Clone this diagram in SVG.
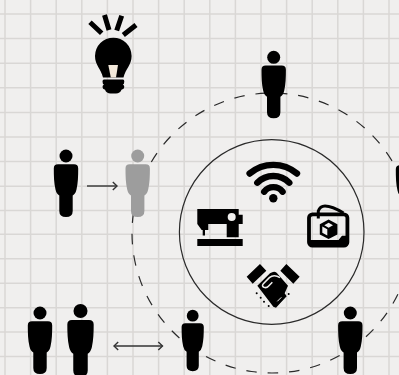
<svg xmlns="http://www.w3.org/2000/svg" xmlns:xlink="http://www.w3.org/1999/xlink" width="399" height="375" viewBox="0 0 399 375">
<style>
.g{stroke:#d9d7d5;stroke-width:1.5;fill:none}
.c{fill:none;stroke:#2a2a2a}
.k{fill:#000}
.a{fill:none;stroke:#333;stroke-width:1.4}
.r{stroke:#000;stroke-width:5;fill:none}
.w{fill:none;stroke:#000;stroke-width:6.400;stroke-linecap:round}
</style>
<defs>
<g id="person"><circle cx="0" cy="0" r="6.500"/><path d="M-8 8.300H8Q12.200 8.300 12.200 12.500C12.200 20 12 27 10.500 33.500Q9.500 38 6.700 39.500V55Q6.700 61 0 61Q-6.700 61-6.700 55V39.500Q-9.500 38-10.500 33.500C-12 27-12.200 20-12.200 12.500Q-12.200 8.300-8 8.300Z"/></g>
<marker id="open" markerWidth="10" markerHeight="10" refX="8" refY="5" orient="auto-start-reverse" markerUnits="userSpaceOnUse"><path d="M3.800 1L8 5L3.800 9" fill="none" stroke="#333" stroke-width="1.400"/></marker>
</defs>
<rect width="399" height="375" fill="#f0efee"/>
<path class="g" d="M5 0V375M30.600 0V375M56.200 0V375M81.800 0V375M107.400 0V375M133 0V375M158.600 0V375M184.200 0V375M209.800 0V375M235.400 0V375M261 0V375M286.600 0V375M312.200 0V375M337.800 0V375M363.400 0V375M389 0V375M0 14H399M0 38.600H399M0 63.200H399M0 87.800H399M0 112.400H399M0 137H399M0 161.600H399M0 186.200H399M0 210.400H399M0 234.200H399M0 258.800H399M0 283.200H399M0 307.800H399M0 332H399M0 356.400H399"/>
<g id="connectors">
<circle class="c" cx="272" cy="233" r="140" stroke-width="1.200" stroke-dasharray="10.500 10.960" transform="rotate(8.400 272 233)"/>
<circle class="c" cx="271.700" cy="232" r="92.300" stroke-width="1.200"/>
<path class="a" d="M87 186H117" marker-end="url(#open)"/>
<path class="a" d="M114 346H162.500" marker-start="url(#open)" marker-end="url(#open)"/>
</g>
<g id="bulb">
<path class="r" d="M90 22.300L101.700 33.300M104.500 15L109 30M121.700 15.700L116.700 30.500M136 25L123.300 35"/>
<path class="k" d="M113.300 37.700A18.300 18.300 0 0 1 131.600 56C131.600 65 125.500 69 123.500 77.500H103C101 69 95 65 95 56A18.300 18.300 0 0 1 113.300 37.700Z"/>
<path d="M108.300 65H118L116 77.500H110.800Z" fill="#f3e9da"/>
<path class="k" d="M104 79.500H123Q124.300 79.500 124.300 81.500Q124.300 84 122.800 84.500Q124.300 85.200 124.300 87Q124.300 89.300 121.500 89.700Q120 93.500 116 93.500H110.500Q106.500 93.500 105 89.700Q102.500 89.300 102.500 87Q102.500 85.200 104 84.500Q102.500 84 102.500 81.500Q102.500 79.500 104 79.500Z"/>
</g>
<g id="person-top" class="k"><use xlink:href="#person" href="#person" transform="translate(273.700 57.300)"/></g>
<g id="person-a" class="k"><use xlink:href="#person" href="#person" transform="translate(66 156)"/></g>
<g id="person-b" fill="#9d9d9d"><use xlink:href="#person" href="#person" transform="translate(137.700 156)"/></g>
<g id="person-right" class="k"><use xlink:href="#person" href="#person" transform="translate(408 157)"/></g>
<g id="person-c" class="k"><use xlink:href="#person" href="#person" transform="translate(40 313)"/></g>
<g id="person-d" class="k"><use xlink:href="#person" href="#person" transform="translate(80.500 311) scale(1.08)"/></g>
<g id="person-e" class="k"><use xlink:href="#person" href="#person" transform="translate(192.700 315.700) scale(.91)"/></g>
<g id="person-f" class="k"><use xlink:href="#person" href="#person" transform="translate(350.300 313)"/></g>
<g id="wifi">
<path class="w" d="M249.600 173.500A36.800 36.800 0 0 1 297 173.500M257.300 182.700A22.500 22.500 0 0 1 289.300 182.700M264.200 191.700A11.600 11.600 0 0 1 282.600 191.700"/>
<circle class="k" cx="273.300" cy="198.300" r="4.200"/>
</g>
<g id="sewing">
<rect class="k" x="197.300" y="239" width="45.400" height="7"/>
<path class="k" d="M197.300 209H238.700V214.700H242.700V224H238.700V237.300H226.700V224H208.300V230H205V235.500H202.700V230H201.700L197.300 224Z"/>
<circle cx="231.700" cy="217" r="4" fill="#f0efee"/>
</g>
<g id="bag">
<rect x="309" y="214.300" width="38.400" height="31.400" rx="3.500" fill="none" stroke="#000" stroke-width="3.800"/>
<path class="k" d="M310 240H338.500L342 235.700H347V246H310Z"/>
<path d="M318.300 218.500V211Q320 206 325 206Q332 206 343.500 213" fill="none" stroke="#000" stroke-width="3"/>
<path class="k" d="M328.600 219.500L337.400 224.200V234.400L328.600 239L319.800 234.400V224.200Z"/>
<path d="M322.300 226.500L327.300 229.300V235.500L322.300 232.700ZM328.600 222.800L333 225.300L328.600 227.800L324.300 225.300Z" fill="#f0efee"/>
</g>
<g id="handshake">
<g transform="translate(240 255) scale(.3333)">
<path class="k" d="M20 65L60 27L79 47L38 86ZM139 27L179 65L160 86L121 47Z"/>
<path class="k" d="M52 92L90 55Q102 46 110 53L144 92L134 115L140 124L108 158L100 155Z"/>
<path d="M120 68Q102 56 88 68L70 86Q64 93 72 97Q80 100 86 93L97 82" fill="none" stroke="#f0efee" stroke-width="4.500"/>
<path d="M112 139L124 127M121 148L133 136" stroke="#f0efee" stroke-width="3"/>
<circle class="k" cx="50" cy="115" r="3"/><circle class="k" cx="62" cy="128" r="3"/><circle class="k" cx="72" cy="140" r="3"/><circle class="k" cx="86" cy="153" r="3"/><circle class="k" cx="146" cy="117" r="3"/>
</g>
</g>
</svg>
